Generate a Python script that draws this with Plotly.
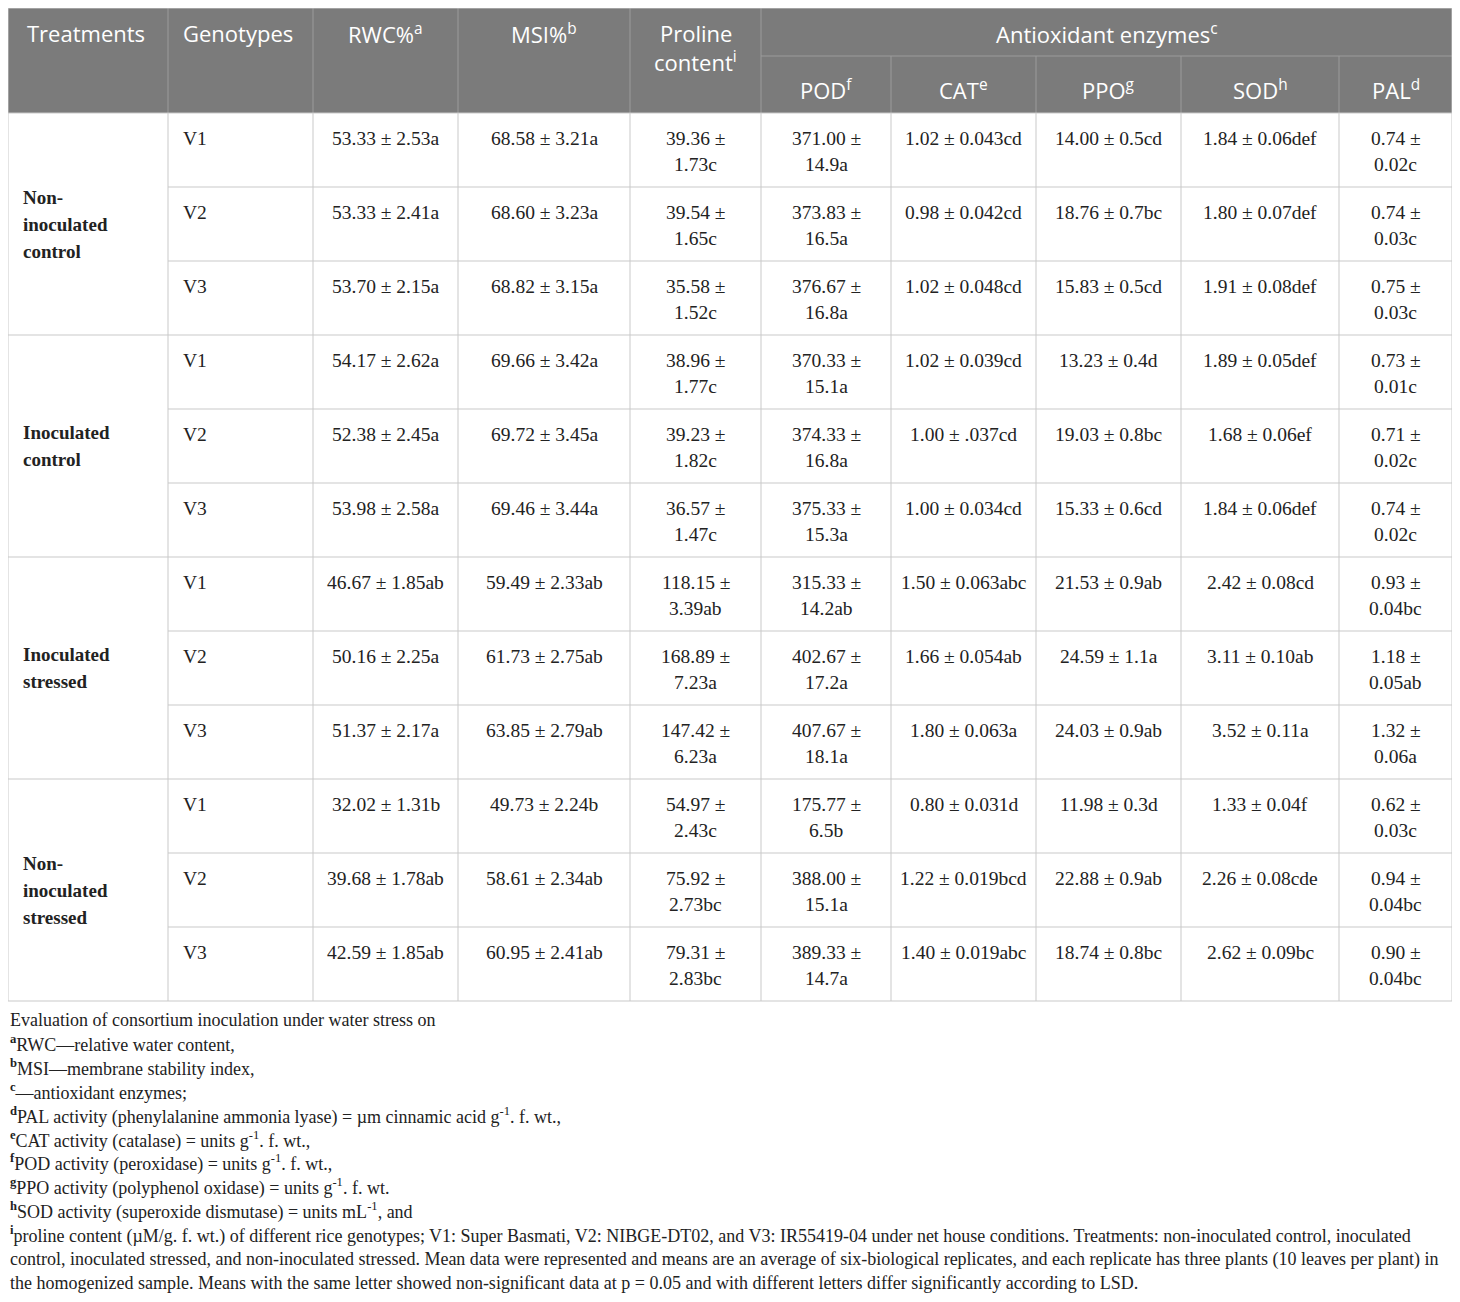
import plotly.graph_objects as go

# ---- table content ----
treatments = [
    ["Non-", "inoculated", "control"],
    ["Inoculated", "control"],
    ["Inoculated", "stressed"],
    ["Non-", "inoculated", "stressed"],
]
genotypes = ["V1", "V2", "V3"]

rwc = ["53.33 ± 2.53a", "53.33 ± 2.41a", "53.70 ± 2.15a",
       "54.17 ± 2.62a", "52.38 ± 2.45a", "53.98 ± 2.58a",
       "46.67 ± 1.85ab", "50.16 ± 2.25a", "51.37 ± 2.17a",
       "32.02 ± 1.31b", "39.68 ± 1.78ab", "42.59 ± 1.85ab"]
msi = ["68.58 ± 3.21a", "68.60 ± 3.23a", "68.82 ± 3.15a",
       "69.66 ± 3.42a", "69.72 ± 3.45a", "69.46 ± 3.44a",
       "59.49 ± 2.33ab", "61.73 ± 2.75ab", "63.85 ± 2.79ab",
       "49.73 ± 2.24b", "58.61 ± 2.34ab", "60.95 ± 2.41ab"]
proline = ["39.36 ± 1.73c", "39.54 ± 1.65c", "35.58 ± 1.52c",
           "38.96 ± 1.77c", "39.23 ± 1.82c", "36.57 ± 1.47c",
           "118.15 ± 3.39ab", "168.89 ± 7.23a", "147.42 ± 6.23a",
           "54.97 ± 2.43c", "75.92 ± 2.73bc", "79.31 ± 2.83bc"]
pod = ["371.00 ± 14.9a", "373.83 ± 16.5a", "376.67 ± 16.8a",
       "370.33 ± 15.1a", "374.33 ± 16.8a", "375.33 ± 15.3a",
       "315.33 ± 14.2ab", "402.67 ± 17.2a", "407.67 ± 18.1a",
       "175.77 ± 6.5b", "388.00 ± 15.1a", "389.33 ± 14.7a"]
cat = ["1.02 ± 0.043cd", "0.98 ± 0.042cd", "1.02 ± 0.048cd",
       "1.02 ± 0.039cd", "1.00 ± .037cd", "1.00 ± 0.034cd",
       "1.50 ± 0.063abc", "1.66 ± 0.054ab", "1.80 ± 0.063a",
       "0.80 ± 0.031d", "1.22 ± 0.019bcd", "1.40 ± 0.019abc"]
ppo = ["14.00 ± 0.5cd", "18.76 ± 0.7bc", "15.83 ± 0.5cd",
       "13.23 ± 0.4d", "19.03 ± 0.8bc", "15.33 ± 0.6cd",
       "21.53 ± 0.9ab", "24.59 ± 1.1a", "24.03 ± 0.9ab",
       "11.98 ± 0.3d", "22.88 ± 0.9ab", "18.74 ± 0.8bc"]
sod = ["1.84 ± 0.06def", "1.80 ± 0.07def", "1.91 ± 0.08def",
       "1.89 ± 0.05def", "1.68 ± 0.06ef", "1.84 ± 0.06def",
       "2.42 ± 0.08cd", "3.11 ± 0.10ab", "3.52 ± 0.11a",
       "1.33 ± 0.04f", "2.26 ± 0.08cde", "2.62 ± 0.09bc"]
pal = ["0.74 ± 0.02c", "0.74 ± 0.03c", "0.75 ± 0.03c",
       "0.73 ± 0.01c", "0.71 ± 0.02c", "0.74 ± 0.02c",
       "0.93 ± 0.04bc", "1.18 ± 0.05ab", "1.32 ± 0.06a",
       "0.62 ± 0.03c", "0.94 ± 0.04bc", "0.90 ± 0.04bc"]

header_main = ["Treatments", "Genotypes", "RWC%<sup>a</sup>", "MSI%<sup>b</sup>"]
header_proline = ["Proline", "content<sup>i</sup>"]
header_group = "Antioxidant enzymes<sup>c</sup>"
header_sub = ["POD<sup>f</sup>", "CAT<sup>e</sup>", "PPO<sup>g</sup>",
              "SOD<sup>h</sup>", "PAL<sup>d</sup>"]

footnotes = [
    "Evaluation of consortium inoculation under water stress on",
    "<sup><b>a</b></sup>RWC—relative water content,",
    "<sup><b>b</b></sup>MSI—membrane stability index,",
    "<sup><b>c</b></sup>—antioxidant enzymes;",
    "<sup><b>d</b></sup>PAL activity (phenylalanine ammonia lyase) = µm cinnamic acid g<sup>-1</sup>. f. wt.,",
    "<sup><b>e</b></sup>CAT activity (catalase) = units g<sup>-1</sup>. f. wt.,",
    "<sup><b>f</b></sup>POD activity (peroxidase) = units g<sup>-1</sup>. f. wt.,",
    "<sup><b>g</b></sup>PPO activity (polyphenol oxidase) = units g<sup>-1</sup>. f. wt.",
    "<sup><b>h</b></sup>SOD activity (superoxide dismutase) = units mL<sup>-1</sup>, and",
    "<sup><b>i</b></sup>proline content (µM/g. f. wt.) of different rice genotypes; V1: Super Basmati, "
    "V2: NIBGE-DT02, and V3: IR55419-04 under net house conditions. Treatments: non-inoculated control, inoculated",
    "control, inoculated stressed, and non-inoculated stressed. Mean data were represented and means are an "
    "average of six-biological replicates, and each replicate has three plants (10 leaves per plant) in",
    "the homogenized sample. Means with the same letter showed non-significant data at p = 0.05 and with "
    "different letters differ significantly according to LSD.",
]

# value columns, and whether the cell text wraps onto two lines
value_cols = [(rwc, False), (msi, False), (proline, True), (pod, True),
              (cat, False), (ppo, False), (sod, False), (pal, True)]

# ---- geometry ----
col_x = [8, 168, 313, 458, 630, 761, 891, 1036, 1181, 1339, 1452]
head_top, head_mid, head_bot = 8, 56, 113
row_h = 74
n_rows = len(rwc)
table_bot = head_bot + n_rows * row_h

HEAD_BG = "#7b7b7b"
HEAD_LINE = "#9c9c9c"
GRID = "#c9c9c9"
SERIF = "Liberation Serif"
SANS = "Open Sans"
BODY = 19.5
HEAD = 22
NOTE = 18

fig = go.Figure()
shapes = []
ann = []


def line(x0, y0, x1, y1, color, w=1):
    shapes.append(dict(type="line", x0=x0, y0=y0, x1=x1, y1=y1,
                       line=dict(color=color, width=w), layer="above"))


def text(x, y, s, size, color="#222", font=SERIF, anchor="center"):
    ann.append(dict(x=x, y=y, text=s, showarrow=False, xanchor=anchor,
                    yanchor="middle", font=dict(family=font, size=size, color=color)))


# header block
shapes.append(dict(type="rect", x0=col_x[0], x1=col_x[-1], y0=head_top, y1=head_bot,
                   fillcolor=HEAD_BG, line=dict(width=0), layer="below"))
for i, x in enumerate(col_x[1:-1], 1):
    top = head_mid if i > 5 else head_top
    line(x, top, x, head_bot, HEAD_LINE)
line(col_x[5], head_mid, col_x[-1], head_mid, HEAD_LINE)
line(col_x[0], head_top, col_x[-1], head_top, GRID)
line(col_x[0], head_top, col_x[0], head_bot, GRID)
line(col_x[-1], head_top, col_x[-1], head_bot, GRID)

text(25, 33, header_main[0], HEAD, "white", SANS, "left")
text(181, 33, header_main[1], HEAD, "white", SANS, "left")
text((col_x[2] + col_x[3]) / 2, 33, header_main[2], HEAD, "white", SANS)
text((col_x[3] + col_x[4]) / 2, 33, header_main[3], HEAD, "white", SANS)
text((col_x[4] + col_x[5]) / 2, 33, header_proline[0], HEAD, "white", SANS)
text((col_x[4] + col_x[5]) / 2, 61, header_proline[1], HEAD, "white", SANS)
text((col_x[5] + col_x[-1]) / 2, 33, header_group, HEAD, "white", SANS)
for j, h in enumerate(header_sub):
    text((col_x[5 + j] + col_x[6 + j]) / 2, 89, h, HEAD, "white", SANS)

# body grid
for x in col_x:
    line(x, head_bot, x, table_bot, GRID)
for r in range(n_rows + 1):
    y = head_bot + r * row_h
    x_start = col_x[0] if r % 3 == 0 else col_x[1]
    line(x_start, y, col_x[-1], y, GRID)

# treatment labels
for g, lines_ in enumerate(treatments):
    yc = head_bot + (g * 3 + 1.5) * row_h
    n = len(lines_)
    for k, s in enumerate(lines_):
        text(21, yc + (k - (n - 1) / 2) * 27, "<b>" + s + "</b>", 19, "#222", SERIF, "left")

# genotype + values
for r in range(n_rows):
    y1 = head_bot + r * row_h + 25
    text(181, y1, genotypes[r % 3], BODY, "#222", SERIF, "left")
    for c, (vals, wrap) in enumerate(value_cols):
        xc = (col_x[2 + c] + col_x[3 + c]) / 2
        s = vals[r]
        if wrap:
            a, b = s.split("± ")
            text(xc, y1, a + "±", BODY)
            text(xc, y1 + 26, b, BODY)
        else:
            text(xc, y1, s, BODY)

# footnotes
for k, s in enumerate(footnotes):
    text(8, 1020 + k * 23.9, s, NOTE, "#222", SERIF, "left")

fig.update_layout(
    width=1452, height=1294,
    margin=dict(l=0, r=0, t=0, b=0, pad=0),
    paper_bgcolor="white", plot_bgcolor="white",
    xaxis=dict(range=[8, 1460], visible=False, fixedrange=True),
    yaxis=dict(range=[1302, 8], visible=False, fixedrange=True),
    shapes=shapes, annotations=ann, showlegend=False,
)
fig.write_html("out.html")
